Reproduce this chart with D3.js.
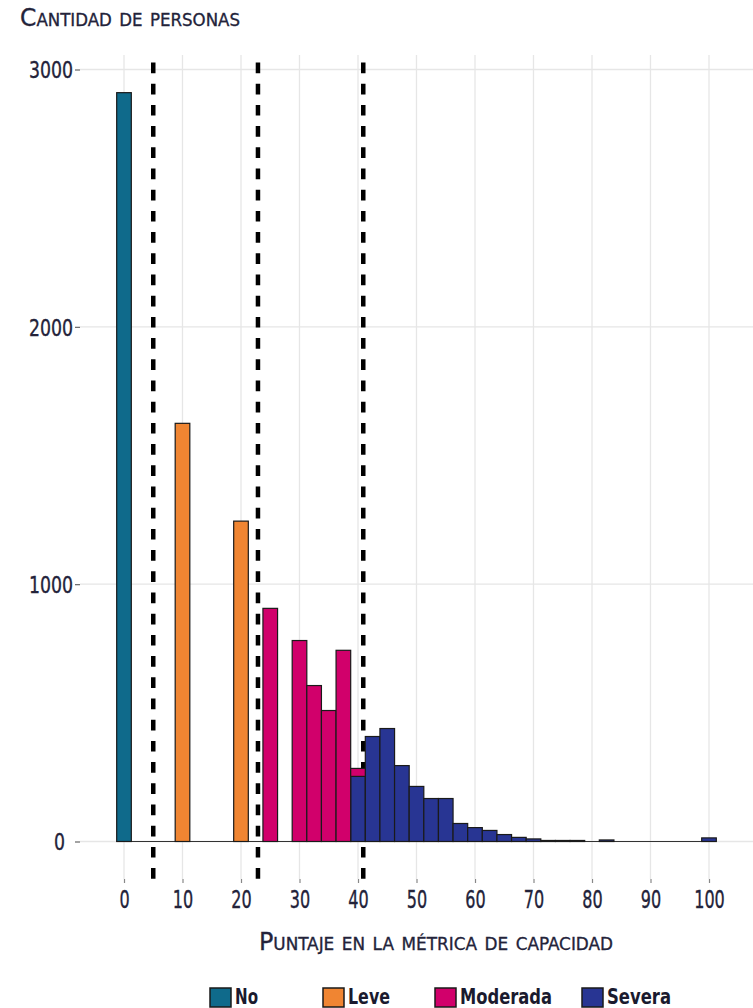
<!DOCTYPE html>
<html><head><meta charset="utf-8">
<script src="https://cdn.jsdelivr.net/npm/d3@7"></script>
<style>
html,body{margin:0;padding:0;background:#fff;}
svg{display:block;}
.nar{font-family:'Liberation Sans Narrow','Arial Narrow','DejaVu Sans Condensed',sans-serif;font-stretch:condensed;}
</style></head>
<body><svg id="c" width="753" height="1008"></svg>
<script>
// ---- data ----
const seriesNames = ["No", "Leve", "Moderada", "Severa"];
const seriesColors = ["#0f6a8b", "#f08532", "#d1006b", "#283593"];

const noBins = [0];
const noCounts = [2910];
const leveBins = [10, 20];
const leveCounts = [1625, 1245];
const moderadaBins = [25, 30, 32.5, 35, 37.5, 40];
const moderadaCounts = [906, 781, 606, 509, 743, 31];
const severaBins = [40, 42.5, 45, 47.5, 50, 52.5, 55, 57.5, 60, 62.5, 65, 67.5, 70, 72.5, 75, 77.5, 82.5, 100];
const severaCounts = [253, 408, 439, 295, 214, 167, 167, 70, 54, 43, 27, 16, 10, 4, 4, 4, 6, 14];

const binWidth = 2.5;
const cutoffs = [5, 22.9, 40.9];
const xTicks = [0, 10, 20, 30, 40, 50, 60, 70, 80, 90, 100];
const yTicks = [0, 1000, 2000, 3000];

const yTitle = "Cantidad de personas";
const xTitle = "Puntaje en la métrica de capacidad";

// ---- build table ----
const seriesBins = [noBins, leveBins, moderadaBins, severaBins];
const seriesCounts = [noCounts, leveCounts, moderadaCounts, severaCounts];
const allBins = Array.from(new Set(seriesBins.flat())).sort((a, b) => a - b);
const table = allBins.map(b => {
  const row = {bin: b};
  seriesNames.forEach((s, i) => {
    const k = seriesBins[i].indexOf(b);
    row[s] = k >= 0 ? seriesCounts[i][k] : 0;
  });
  return row;
});
const stackOrder = ["Severa", "Moderada", "Leve", "No"]; // bottom -> top
const stacked = d3.stack().keys(stackOrder)(table);
const color = d3.scaleOrdinal().domain(seriesNames).range(seriesColors);

// ---- layout ----
const svg = d3.select("#c");
const panel = {left: 80, right: 753, top: 55, bottom: 879};
const x = d3.scaleLinear().domain([0, 100]).range([124, 709]);
const y = d3.scaleLinear().domain([0, 3000]).range([841.5, 69.5]);

// grid
const g = svg.append("g");
g.selectAll(".vg").data(xTicks).join("line")
  .attr("x1", d => x(d)).attr("x2", d => x(d))
  .attr("y1", panel.top).attr("y2", panel.bottom)
  .attr("stroke", "#e6e6e6").attr("stroke-width", 1.3);
g.selectAll(".hg").data(yTicks).join("line")
  .attr("x1", panel.left).attr("x2", panel.right)
  .attr("y1", d => y(d)).attr("y2", d => y(d))
  .attr("stroke", "#e6e6e6").attr("stroke-width", 1.3);

// cutoff lines (behind bars)
g.selectAll(".cut").data(cutoffs).join("line")
  .attr("x1", d => x(d)).attr("x2", d => x(d))
  .attr("y1", 62.5).attr("y2", 881)
  .attr("stroke", "#000").attr("stroke-width", 4.5)
  .attr("stroke-dasharray", "10.7,10.5");

// baseline of empty bins
g.append("line")
  .attr("x1", x(allBins[0] - binWidth / 2)).attr("x2", x(allBins[allBins.length - 1] + binWidth / 2))
  .attr("y1", y(0)).attr("y2", y(0))
  .attr("stroke", "#333").attr("stroke-width", 1.2);

// bars
stacked.forEach(layer => {
  g.append("g").selectAll("rect")
    .data(layer.filter(d => d[1] - d[0] > 0))
    .join("rect")
    .attr("x", d => x(d.data.bin - binWidth / 2))
    .attr("width", d => x(d.data.bin + binWidth / 2) - x(d.data.bin - binWidth / 2))
    .attr("y", d => y(d[1]))
    .attr("height", d => y(d[0]) - y(d[1]))
    .attr("fill", color(layer.key))
    .attr("stroke", "#1a1a1a").attr("stroke-width", 1.2);
});

// axes
const txtCol = "#23233a";
const xAxis = d3.axisBottom(x).tickValues(xTicks).tickSize(4).tickPadding(8);
const xa = svg.append("g").attr("transform", `translate(0,${panel.bottom})`).call(xAxis);
xa.select(".domain").remove();
xa.selectAll(".tick line").attr("stroke", "#888").attr("stroke-width", 1.2);
xa.selectAll(".tick text").attr("class", "nar").attr("font-size", 24).attr("fill", txtCol)
  .attr("stroke", txtCol).attr("stroke-width", 0.35)
  .attr("textLength", d => String(d).length * 10.2).attr("lengthAdjust", "spacingAndGlyphs");

const yAxis = d3.axisLeft(y).tickValues(yTicks).tickSize(5).tickPadding(2).tickFormat(d3.format("d"));
const ya = svg.append("g").attr("transform", `translate(${panel.left},0)`).call(yAxis);
ya.select(".domain").remove();
ya.selectAll(".tick line").attr("stroke", "#666").attr("stroke-width", 1.2);
ya.selectAll(".tick text").attr("class", "nar").attr("font-size", 23).attr("fill", txtCol)
  .attr("stroke", txtCol).attr("stroke-width", 0.35)
  .attr("dy", "0.36em").attr("dx", d => d === 0 ? -8 : 0)
  .attr("textLength", d => String(d).length * 11).attr("lengthAdjust", "spacingAndGlyphs");

// titles
svg.append("text").attr("class", "nar")
  .attr("x", 20).attr("y", 26)
  .attr("font-size", 24).attr("fill", txtCol)
  .attr("stroke", txtCol).attr("stroke-width", 0.3)
  .style("font-variant", "small-caps")
  .attr("textLength", 220).attr("lengthAdjust", "spacingAndGlyphs")
  .text(yTitle);
svg.append("text").attr("class", "nar")
  .attr("x", 259).attr("y", 950)
  .attr("font-size", 24).attr("fill", txtCol)
  .attr("stroke", txtCol).attr("stroke-width", 0.3)
  .style("font-variant", "small-caps")
  .attr("textLength", 354).attr("lengthAdjust", "spacingAndGlyphs")
  .text(xTitle);

// legend
const legX = [210, 323, 435, 582];
const legW = [23, 42, 92, 64];
const leg = svg.append("g");
seriesNames.forEach((s, i) => {
  leg.append("rect").attr("x", legX[i]).attr("y", 988).attr("width", 21).attr("height", 19)
    .attr("fill", color(s)).attr("stroke", "#1a1a1a").attr("stroke-width", 1.5);
  leg.append("text").attr("class", "nar").attr("x", legX[i] + 25).attr("y", 1004)
    .attr("font-size", 22).attr("font-weight", "bold").attr("fill", "#1a1a2e")
    .attr("textLength", legW[i]).attr("lengthAdjust", "spacingAndGlyphs")
    .text(s);
});
</script></body></html>
